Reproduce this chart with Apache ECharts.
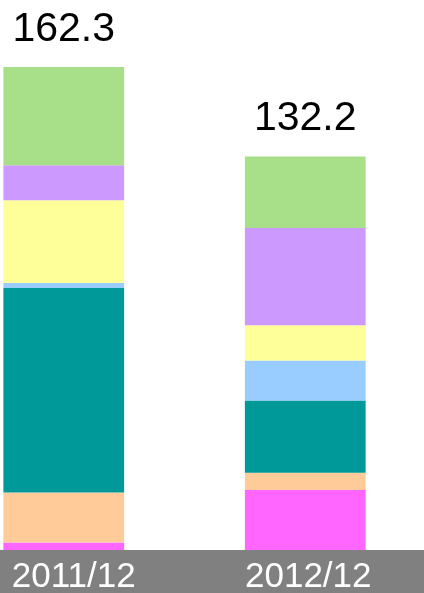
<!DOCTYPE html>
<html><head><meta charset="utf-8">
<script src="https://cdn.jsdelivr.net/npm/echarts@6/dist/echarts.min.js"></script>
<style>html,body{margin:0;padding:0;background:#fff}#c{width:424px;height:593px}</style>
</head><body><div id="c"></div>
<script>
const categories = ['2011/12', '2012/12'];
const totals = [162.3, 132.2];
const magenta = [2.5, 20.2];
const peach = [16.8, 5.8];
const teal = [68.7, 24.2];
const blue = [1.7, 13.5];
const yellow = [27.8, 11.8];
const purple = [11.8, 32.7];
const green = [33.0, 24.0];

const seriesDefs = [
  ['magenta', magenta, '#FF66FF'],
  ['peach', peach, '#FFCC99'],
  ['teal', teal, '#009999'],
  ['blue', blue, '#99CCFF'],
  ['yellow', yellow, '#FFFF99'],
  ['purple', purple, '#CC99FF'],
  ['green', green, '#A8E08A']
];
const font = '"Liberation Sans", Arial, sans-serif';
const chart = echarts.init(document.getElementById('c'), null, {renderer: 'canvas'});
const series = seriesDefs.map((d, i) => ({
  name: d[0], type: 'bar', stack: 'total', data: d[1], barWidth: '50%',
  itemStyle: {color: d[2]},
  label: i === seriesDefs.length - 1 ? {
    show: true, position: 'top', distance: 17,
    formatter: p => totals[p.dataIndex].toFixed(1),
    color: '#000', fontSize: 41, fontFamily: font
  } : {show: false}
}));
chart.setOption({
  animation: false,
  graphic: [{type: 'rect', z: -10, shape: {x: 0, y: 550, width: 424, height: 43}, style: {fill: '#808080'}}],
  grid: {left: -57, width: 483, top: 44.1, bottom: 43, containLabel: false, outerBoundsMode: 'none'},
  xAxis: {
    type: 'category',
    data: [{value: categories[0], textStyle: {padding: [0, 0, 0, 20]}}, {value: categories[1], textStyle: {padding: [0, 0, 0, 6]}}],
    axisLine: {show: false}, axisTick: {show: false},
    axisLabel: {color: '#fff', fontSize: 35, fontFamily: font, margin: 10},
    z: 10
  },
  yAxis: {type: 'value', min: 0, max: 170, show: false, splitLine: {show: false}},
  series: series
});
</script></body></html>
